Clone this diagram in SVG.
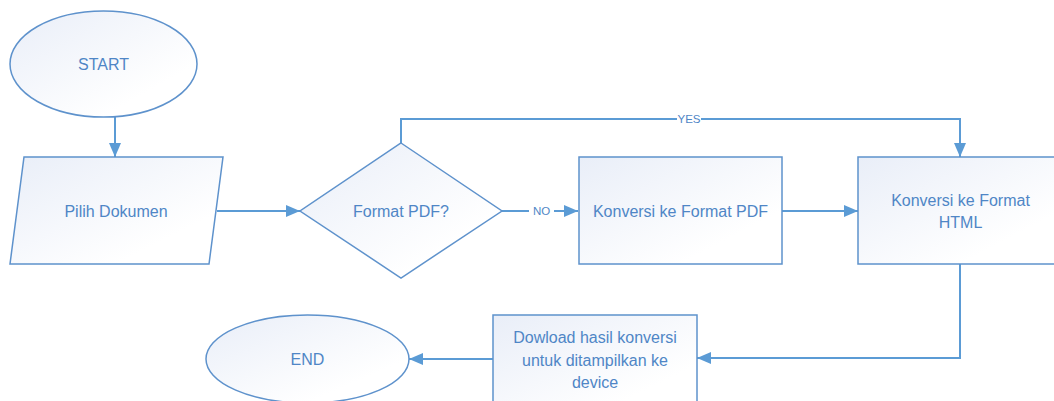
<svg xmlns="http://www.w3.org/2000/svg" width="1054" height="401" viewBox="0 0 1054 401">
<style>
.n{fill:url(#g);stroke:#5E92CC;stroke-width:1.5}
.t{font-family:"Liberation Sans",Arial,sans-serif;font-size:16px;fill:#4F86C6;text-anchor:middle;dominant-baseline:central}
.c{fill:none;stroke:#5B9BD5;stroke-width:2}
.l{font-family:"Liberation Sans",Arial,sans-serif;font-size:11.5px;fill:#4F86C6;text-anchor:middle;dominant-baseline:central}
</style>
<defs>
<linearGradient id="g" x1="0" y1="0" x2="1" y2="1">
<stop offset="0" stop-color="#E9EEF8"/>
<stop offset="0.75" stop-color="#FFFFFF"/>
</linearGradient>
<marker id="a" markerUnits="userSpaceOnUse" markerWidth="14" markerHeight="14" viewBox="0 0 14 14" refX="14" refY="7" orient="auto">
<path d="M0,1 L14,7 L0,13 Z" fill="#5B9BD5"/>
</marker>
</defs>
<rect width="1054" height="401" fill="#FFFFFF"/>
<g id="connectors">
<path class="c" d="M115,117 V157" marker-end="url(#a)"/>
<path class="c" d="M217,211 H300" marker-end="url(#a)"/>
<path class="c" d="M502,211 H578" marker-end="url(#a)"/>
<path class="c" d="M782,211 H858" marker-end="url(#a)"/>
<path class="c" d="M401,143 V119 H960 V157" marker-end="url(#a)"/>
<path class="c" d="M960,264 V358 H697" marker-end="url(#a)"/>
<path class="c" d="M493,359 H409" marker-end="url(#a)"/>
<rect x="529" y="204" width="25" height="14" fill="#FFFFFF"/>
<text class="l" x="541.5" y="211">NO</text>
<rect x="677" y="112" width="24" height="14" fill="#FFFFFF"/>
<text class="l" x="689" y="119">YES</text>
</g>
<g id="start">
<ellipse class="n" cx="103.5" cy="64" rx="93.5" ry="53"/>
<text class="t" x="103.5" y="64">START</text>
</g>
<g id="pilih">
<path class="n" d="M24,157 H223 L209,264 H10 Z"/>
<text class="t" x="116" y="211">Pilih Dokumen</text>
</g>
<g id="format">
<path class="n" d="M401,143 L502,211 L401,278 L300,211 Z"/>
<text class="t" x="401" y="211">Format PDF?</text>
</g>
<g id="konvpdf">
<rect class="n" x="579" y="157" width="203" height="107"/>
<text class="t" x="680.5" y="211">Konversi ke Format PDF</text>
</g>
<g id="konvhtml">
<rect class="n" x="858" y="157" width="205" height="107"/>
<text class="t" x="960.5" y="200">Konversi ke Format</text>
<text class="t" x="960.5" y="222">HTML</text>
</g>
<g id="download">
<rect class="n" x="493" y="315" width="204" height="100"/>
<text class="t" x="595" y="337">Dowload hasil konversi</text>
<text class="t" x="595" y="360">untuk ditampilkan ke</text>
<text class="t" x="595" y="382">device</text>
</g>
<g id="end">
<ellipse class="n" cx="307.5" cy="359" rx="101.5" ry="44"/>
<text class="t" x="307.5" y="359">END</text>
</g>
</svg>
